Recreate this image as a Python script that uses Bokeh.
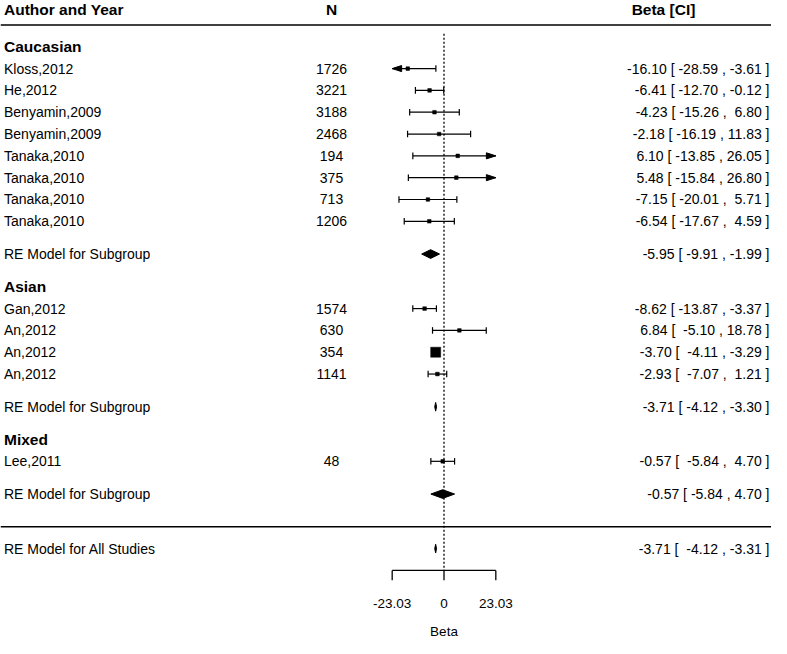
from bokeh.plotting import figure
from bokeh.models import Range1d
from bokeh.core.properties import value
from bokeh.embed import file_html
from bokeh.resources import INLINE

# ---------------- data ----------------
group_names = ["Caucasian", "Asian", "Mixed"]
study_labels = ["Kloss,2012", "He,2012", "Benyamin,2009", "Benyamin,2009",
                "Tanaka,2010", "Tanaka,2010", "Tanaka,2010", "Tanaka,2010",
                "Gan,2012", "An,2012", "An,2012", "An,2012", "Lee,2011"]
study_group = [0, 0, 0, 0, 0, 0, 0, 0, 1, 1, 1, 1, 2]
study_n = [1726, 3221, 3188, 2468, 194, 375, 713, 1206, 1574, 630, 354, 1141, 48]
study_beta = [-16.10, -6.41, -4.23, -2.18, 6.10, 5.48, -7.15, -6.54,
              -8.62, 6.84, -3.70, -2.93, -0.57]
study_lower = [-28.59, -12.70, -15.26, -16.19, -13.85, -15.84, -20.01, -17.67,
               -13.87, -5.10, -4.11, -7.07, -5.84]
study_upper = [-3.61, -0.12, 6.80, 11.83, 26.05, 26.80, 5.71, 4.59,
               -3.37, 18.78, -3.29, 1.21, 4.70]
sub_beta = [-5.95, -3.71, -0.57]
sub_lower = [-9.91, -4.12, -5.84]
sub_upper = [-1.99, -3.30, 4.70]
overall_beta = -3.71
overall_lower = -4.12
overall_upper = -3.31
axis_ticks = [-23.03, 0.0, 23.03]
axis_tick_labels = ["-23.03", "0", "23.03"]
x_label = "Beta"
header_labels = ["Author and Year", "N", "Beta [CI]"]
sub_label = "RE Model for Subgroup"
overall_label = "RE Model for All Studies"
alim = 23.03

# ---------------- layout ----------------
FONT = value("Liberation Sans")
BODY = "14px"
BOLD = "15.5px"
ZERO_PX = 449.5        # horizontal position of beta = 0 (reference pixels)
PX_PER_UNIT = 2.25
X_SHIFT = 6            # reference px -> figure px offset
W, H = 771, 638


def px2x(px):
    return (px - ZERO_PX) / PX_PER_UNIT


X0, X1 = px2x(X_SHIFT), px2x(X_SHIFT + W)
label_x = px2x(9.5)
n_x = px2x(337)
ci_x = px2x(775)
ci_head_x = px2x(669)
NBSP = "\u00a0"

# row assignment (metafor style)
rows_study, rows_sub, rows_group = [], [], []
r = 22.0
for g in range(len(group_names)):
    rows_group.append(r)
    r -= 1
    for i, sg in enumerate(study_group):
        if sg == g:
            rows_study.append(r)
            r -= 1
    r += 1
    rows_sub.append(r - 1.5)
    r = r - 3.0
line_row = rows_sub[-1] - 1.5
overall_row = line_row - 1
header_row = 23.7
header_line_row = 23.0
axis_row = -2.0
Y0, Y1 = -5.12, 24.12

# CI text formatting (padded like metafor's formatC)
w_lb = max(len(f"{v:.2f}") for v in study_lower)
w_ub = max(len(f"{v:.2f}") for v in study_upper)


def fmt_study(e, l, u):
    s = f"{e:.2f} [ {f'{l:.2f}':>{w_lb}} , {f'{u:.2f}':>{w_ub}} ]"
    return s.replace("  ", " " + NBSP)


def fmt_plain(e, l, u):
    return f"{e:.2f} [ {l:.2f} , {u:.2f} ]"


p = figure(width=W, height=H, output_backend="svg", toolbar_location=None,
           x_range=Range1d(X0, X1), y_range=Range1d(Y0, Y1),
           x_axis_location=None, y_axis_location=None, min_border=0)
p.grid.visible = False
p.outline_line_color = None
p.background_fill_color = "white"

# horizontal rules
p.segment(x0=[X0, X0], x1=[X1, X1], y0=[header_line_row, line_row],
          y1=[header_line_row, line_row], line_color="black", line_width=1.5)

# reference line
p.segment(x0=[0], x1=[0], y0=[22.6], y1=[axis_row], line_color="black",
          line_width=1.3, line_dash="2 2")

# CI lines
seg_x0 = [max(l, -alim) for l in study_lower]
seg_x1 = [min(u, alim) for u in study_upper]
p.segment(x0=seg_x0, x1=seg_x1, y0=rows_study, y1=rows_study,
          line_color="black", line_width=1.2)
TH = 0.15
tick_x, tick_y = [], []
for l, u, ro in zip(study_lower, study_upper, rows_study):
    if l >= -alim:
        tick_x.append(l); tick_y.append(ro)
    if u <= alim:
        tick_x.append(u); tick_y.append(ro)
p.segment(x0=tick_x, x1=tick_x, y0=[y - TH for y in tick_y], y1=[y + TH for y in tick_y],
          line_color="black", line_width=1.2)

# arrows for truncated CIs
AL, AH = 4.2, 0.14
arr_xs, arr_ys = [], []
for l, u, ro in zip(study_lower, study_upper, rows_study):
    if l < -alim:
        arr_xs.append([-alim, -alim + AL, -alim + AL]); arr_ys.append([ro, ro + AH, ro - AH])
    if u > alim:
        arr_xs.append([alim, alim - AL, alim - AL]); arr_ys.append([ro, ro + AH, ro - AH])
p.patches(xs=arr_xs, ys=arr_ys, fill_color="black", line_color="black", line_width=1)

# squares sized by inverse-variance weight
wts = [1.0 / ((u - l) / 3.92) ** 2 for l, u in zip(study_lower, study_upper)]
wmin, wmax = min(wts), max(wts)
sizes = [3.6 + 6.4 * (w - wmin) / (wmax - wmin) for w in wts]
p.scatter(x=study_beta, y=rows_study, size=sizes, marker="square",
          fill_color="black", line_color="black", line_width=0.5)

# diamonds
DH = 0.2
dx, dy = [], []
for e, l, u, ro in list(zip(sub_beta, sub_lower, sub_upper, rows_sub)) + \
        [(overall_beta, overall_lower, overall_upper, overall_row)]:
    dx.append([l, e, u, e]); dy.append([ro, ro + DH, ro, ro - DH])
p.patches(xs=dx, ys=dy, fill_color="black", line_color="black", line_width=1)

# x axis
p.segment(x0=[axis_ticks[0]], x1=[axis_ticks[-1]], y0=[axis_row], y1=[axis_row],
          line_color="black", line_width=1.3)
p.segment(x0=axis_ticks, x1=axis_ticks, y0=[axis_row] * 3, y1=[axis_row - 0.45] * 3,
          line_color="black", line_width=1.3)
p.text(x=axis_ticks, y=[-3.5] * 3, text=axis_tick_labels, text_align="center",
       text_baseline="middle", text_font=FONT, text_font_size="13.5px", text_color="black")
p.text(x=[0], y=[-4.78], text=[x_label], text_align="center", text_baseline="middle",
       text_font=FONT, text_font_size="13.5px", text_color="black")

# headers
p.text(x=[label_x], y=[header_row], text=[header_labels[0]], text_align="left",
       text_baseline="middle", text_font=FONT, text_font_style="bold",
       text_font_size=BOLD, text_color="black")
p.text(x=[n_x, ci_head_x], y=[header_row] * 2, text=header_labels[1:], text_align="center",
       text_baseline="middle", text_font=FONT, text_font_style="bold",
       text_font_size=BOLD, text_color="black")
p.text(x=[label_x] * len(group_names), y=rows_group, text=group_names, text_align="left",
       text_baseline="middle", text_font=FONT, text_font_style="bold",
       text_font_size=BOLD, text_color="black")

# left labels
left_texts = study_labels + [sub_label] * len(sub_beta) + [overall_label]
left_rows = rows_study + rows_sub + [overall_row]
p.text(x=[label_x] * len(left_texts), y=left_rows, text=left_texts, text_align="left",
       text_baseline="middle", text_font=FONT, text_font_size=BODY, text_color="black")

# N column
p.text(x=[n_x] * len(study_n), y=rows_study, text=[str(n) for n in study_n],
       text_align="center", text_baseline="middle", text_font=FONT,
       text_font_size=BODY, text_color="black")

# CI column
ci_texts = [fmt_study(e, l, u) for e, l, u in zip(study_beta, study_lower, study_upper)]
ci_texts += [fmt_plain(e, l, u) for e, l, u in zip(sub_beta, sub_lower, sub_upper)]
ci_texts += [fmt_study(overall_beta, overall_lower, overall_upper)]
ci_rows = rows_study + rows_sub + [overall_row]
p.text(x=[ci_x] * len(ci_texts), y=ci_rows, text=ci_texts, text_align="right",
       text_baseline="middle", text_font=FONT, text_font_size=BODY, text_color="black")

open("out.html", "w").write(file_html(p, INLINE))
